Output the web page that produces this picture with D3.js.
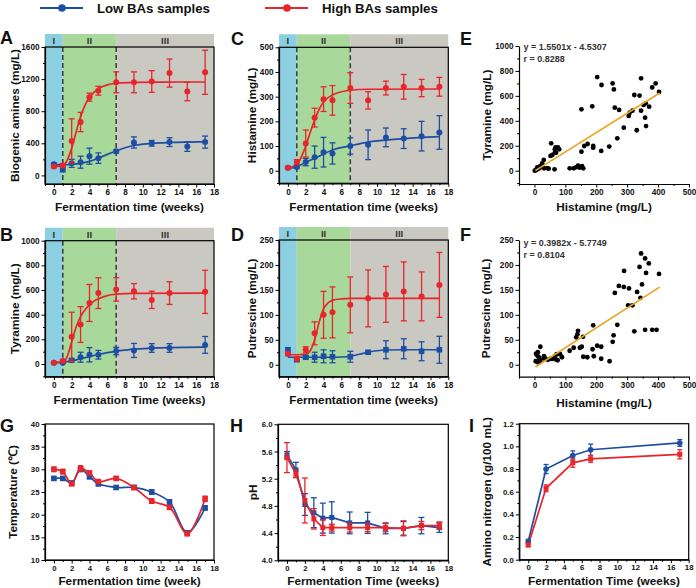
<!DOCTYPE html>
<html><head><meta charset="utf-8">
<script src="https://cdn.jsdelivr.net/npm/d3@7"></script>
<style>body{margin:0;background:#fff}svg{display:block}text{font-family:"Liberation Sans",Arial,sans-serif}</style>
</head><body><svg id="c" width="696" height="588"></svg>
<script>
// ---------------- DATA ----------------
const legendLabels = ["Low BAs samples", "High BAs samples"];
const bandEdges = [-1, 1, 7, 18];
const bandLabels = ["I", "II", "III"];
const dashWeeks = [1, 7];

const weeks = [0,1,2,3,4,5,7,9,11,13,15,17];
const weeksB = [0,1,2,3,4,5,7,9,11,13,17];
const weeksI = [0,2,5,7,17];

// A: Biogenic amines
const baLow = [140,75,150,165,240,215,300,410,400,415,360,415];
const baLowSd = [15,30,50,75,100,65,20,70,35,55,60,75];
const baHigh = [110,125,430,665,975,1055,1160,1160,1170,1275,1045,1285];
const baHighSd = [15,20,275,120,50,55,130,130,135,175,115,275];
const baLowFitX = [0,1,2,3,4,5,6,7,8,9,10,11,13,15,17];
const baLowFitY = [135,135,138,150,175,215,262,305,345,373,390,400,410,415,418];
const baHighFitX = [0,1,1.5,2,2.5,3,3.5,4,4.5,5,6,7,9,12,17];
const baHighFitY = [110,125,190,340,540,730,875,970,1035,1080,1128,1148,1160,1163,1164];

// B: Tyramine
const tyLow = [10,10,30,55,75,75,105,110,130,130,155];
const tyLowSd = [3,5,15,40,58,35,30,57,35,35,68];
const tyHigh = [10,25,220,320,495,575,605,590,520,575,585];
const tyHighSd = [5,10,200,145,150,125,95,62,70,92,175];
const tyLowFitX = [0,1,2,3,4,5,6,7,8,9,11,13,17];
const tyLowFitY = [12,15,25,42,60,77,92,103,112,120,128,133,137];
const tyHighFitX = [0,1,1.5,2,2.5,3,3.5,4,4.5,5,6,7,9,17];
const tyHighFitY = [10,15,60,180,300,385,440,480,510,528,555,566,573,575];

// C: Histamine
const hiLow = [12,15,35,55,75,70,100,105,135,130,140,155];
const hiLowSd = [3,5,15,45,60,43,33,60,38,40,60,68];
const hiHigh = [12,35,110,215,290,285,335,285,335,340,335,340];
const hiHighSd = [3,10,55,38,50,60,62,35,28,50,35,38];
const hiLowFitX = [0,1,2,3,4,5,7,9,11,13,17];
const hiLowFitY = [8,16,34,50,68,84,101,116,124,130,138];
const hiHighFitX = [0,1,1.5,2,2.5,3,3.5,4,4.5,5,6,7,9,17];
const hiHighFitY = [12,23,55,100,155,205,248,278,296,307,320,326,330,331];

// D: Putrescine
const puLow = [30,10,15,15,17,16,16,25,30,32,27,30];
const puLowSd = [4,3,3,10,13,12,11,3,18,20,19,27];
const puHigh = [22,12,30,63,100,105,120,133,141,147,137,160];
const puHighSd = [4,3,6,23,47,51,56,57,56,59,49,65];
const puLowFitX = [0,2,4,6,7,8,9,10,11,13,17];
const puLowFitY = [15,15,15,15.5,17,21,25,28,29.5,30,30];
const puHighFitX = [0,1,2,2.5,3,3.5,4,4.5,5,6,7,17];
const puHighFitY = [20,20,21,28,50,85,112,124,129,132,133,133];

// E: Histamine vs Tyramine
const eHist = [203,217,253,257,345,392,381,403,323,340,152,187,260,274,317,305,308,345,353,360,371,358,361,331,289,268,242,216,190,190,172,161,152,54,68,76,66,70,52,58,80,66,30,25,19,14,5,1,10,41,46,65,114,127,135,141,146,154,158,31,16,9];
const eTyr = [751,687,700,652,741,700,668,631,607,602,492,516,505,487,481,439,465,481,527,540,513,425,358,324,345,259,193,158,198,184,214,198,152,219,187,187,171,144,118,126,171,144,86,59,37,24,5,0,11,21,16,11,19,19,29,40,24,37,19,19,19,27];
const eFitX = [3, 405];
const eFitY = [0.12, 623.3];
const eEq = ["y = 1.5501x - 4.5307", "r = 0.8288"];

// F: Histamine vs Putrescine
const fHist = [345,358,370,340,361,403,290,273,289,306,260,332,348,343,303,317,323,358,381,395,268,256,253,243,190,216,203,188,192,216,158,171,141,139,135,157,147,153,127,114,83,72,66,68,75,53,43,31,30,19,11,5,9,14,4,11,19,16,33,57,89];
const fPut = [223,213,203,196,184,182,188,158,156,153,144,146,161,134,119,119,67,70,70,70,80,59,46,7,79,36,38,31,17,12,16,15,68,61,55,56,34,36,34,28,21,21,17,11,9,12,10,17,13,36,25,22,19,15,7,5,7,12,13,12,15];
const fFitX = [3, 405];
const fFitY = [-4.58, 155.5];
const fEq = ["y = 0.3982x - 5.7749", "r = 0.8104"];

// G: Temperature
const tLow = [28,28,27,30,28.4,26.8,26,26,25,22.8,16,21.5];
const tLowSd = [0.4,0.3,0.3,0.5,0.5,0.4,0.4,0.3,0.5,0.5,0.4,0.5];
const tHigh = [30,29.5,26.8,30.2,29.2,27.3,28,26,23,21.6,15.8,23.5];
const tHighSd = [0.5,0.5,0.3,0.6,0.4,0.3,0.4,0.3,0.5,0.4,0.4,0.6];

// H: pH
const phLow = [5.55,5.33,4.82,4.70,4.62,4.63,4.55,4.55,4.47,4.47,4.51,4.48];
const phLowSd = [0.05,0.11,0.16,0.22,0.22,0.23,0.16,0.155,0.08,0.10,0.12,0.07];
const phHigh = [5.51,5.27,4.88,4.61,4.48,4.48,4.48,4.48,4.48,4.47,4.51,4.51];
const phHighSd = [0.22,0.055,0.33,0.15,0.115,0.05,0.065,0.06,0.06,0.11,0.06,0.055];

// I: Amino nitrogen
const anLow = [0.16,0.80,0.92,0.97,1.03];
const anLowSd = [0.02,0.04,0.04,0.05,0.03];
const anHigh = [0.13,0.63,0.855,0.89,0.93];
const anHighSd = [0.015,0.03,0.04,0.03,0.04];

// ticks
const wkTicks = [0,2,4,6,8,10,12,14,16,18];
const wkMinor = [-1,1,3,5,7,9,11,13,15,17];
const histTicks = [0,100,200,300,400,500];
const histMinor = [-50,50,150,250,350,450];

// ---------------- DRAW ----------------
const svg = d3.select('#c');
const RED = '#e8252b', BLUE = '#1c4ea3', FIT = '#e9a61e';
const bandColors = ['#8ccfe1', '#a9d89b', '#c9c9c1'];
const FONT = '"Liberation Sans", Arial, sans-serif';

function styleAxis(sel, fs) {
  sel.selectAll('path.domain').attr('stroke', '#000').attr('stroke-width', 1.2);
  sel.selectAll('.tick line').attr('stroke', '#000').attr('stroke-width', 1);
  sel.selectAll('.tick text').attr('font-size', fs).attr('font-weight', 'bold')
    .attr('fill', '#111').attr('font-family', FONT);
}

function panel(p) {
  const g = svg.append('g');
  const fs = p.tfs || 8.2;
  const x = d3.scaleLinear().domain(p.xd).range([p.l, p.r]);
  const y = d3.scaleLinear().domain(p.yd).range([p.b, p.t]);
  if (p.bands) {
    for (let i = 0; i < bandLabels.length; i++) {
      const xa = x(bandEdges[i]), xb = x(bandEdges[i + 1]);
      g.append('rect').attr('x', xa).attr('y', p.t - 13).attr('width', xb - xa)
        .attr('height', p.b - p.t + 13).attr('fill', bandColors[i]);
      g.append('text').attr('x', (xa + xb) / 2).attr('y', p.t - 6.5).attr('dy', '0.35em')
        .attr('text-anchor', 'middle').attr('font-family', '"Liberation Serif","Times New Roman",serif')
        .attr('font-weight', 'bold').attr('font-size', 9.5).attr('fill', '#333').text(bandLabels[i]);
    }
  }
  if (p.dashed) {
    dashWeeks.forEach(d => g.append('line').attr('x1', x(d)).attr('x2', x(d)).attr('y1', p.t).attr('y2', p.b)
      .attr('stroke', '#3a3a3a').attr('stroke-width', 1.5).attr('stroke-dasharray', '5,3'));
  }
  const fmt = p.yf || d3.format('d');
  const ym = g.append('g').attr('transform', `translate(${p.l},0)`)
    .call(d3.axisLeft(y).tickValues(p.ym).tickSize(2).tickSizeOuter(0).tickFormat(''));
  ym.select('.domain').remove();
  const yM = g.append('g').attr('transform', `translate(${p.l},0)`)
    .call(d3.axisLeft(y).tickValues(p.yt).tickSize(3.5).tickSizeOuter(0).tickPadding(2).tickFormat(fmt));
  styleAxis(ym, fs); styleAxis(yM, fs);
  const xm = g.append('g').attr('transform', `translate(0,${p.b})`)
    .call(d3.axisBottom(x).tickValues(p.xm).tickSize(2).tickSizeOuter(0).tickFormat(''));
  xm.select('.domain').remove();
  const xM = g.append('g').attr('transform', `translate(0,${p.b})`)
    .call(d3.axisBottom(x).tickValues(p.xt).tickSize(3.5).tickSizeOuter(0).tickPadding(p.tpad || 2).tickFormat(d3.format('d')));
  styleAxis(xm, fs); styleAxis(xM, fs);
  if (p.frame) {
    g.append('rect').attr('x', p.l).attr('y', p.t).attr('width', p.r - p.l).attr('height', p.b - p.t)
      .attr('fill', 'none').attr('stroke', '#000').attr('stroke-width', 1.2);
  }
  // labels
  g.append('text').attr('x', (p.l + p.r) / 2).attr('y', p.xly).attr('text-anchor', 'middle')
    .attr('font-size', 11.8).attr('font-weight', 'bold').attr('fill', '#111').text(p.xl);
  g.append('text').attr('transform', `translate(${p.l - p.ylo},${(p.t + p.b) / 2}) rotate(-90)`)
    .attr('dy', '0.35em').attr('text-anchor', 'middle')
    .attr('font-size', 11.8).attr('font-weight', 'bold').attr('fill', '#111').text(p.yl);
  g.append('text').attr('x', p.lx).attr('y', p.ly).attr('font-size', 18).attr('font-weight', 'bold')
    .attr('fill', '#111').text(p.letter);
  const plot = g.append('g');
  return { g: plot, x, y };
}

function fitLine(P, xs, ys, color) {
  const line = d3.line().x((d, i) => P.x(xs[i])).y((d, i) => P.y(ys[i])).curve(d3.curveMonotoneX);
  P.g.append('path').attr('d', line(xs)).attr('fill', 'none').attr('stroke', color).attr('stroke-width', 1.7);
}

function dataLine(P, xs, ys, color, curve) {
  const line = d3.line().x((d, i) => P.x(xs[i])).y((d, i) => P.y(ys[i])).curve(curve);
  P.g.append('path').attr('d', line(xs)).attr('fill', 'none').attr('stroke', color).attr('stroke-width', 1.7);
}

function points(P, xs, ms, sds, color, shape, cap, size) {
  const gg = P.g.append('g');
  xs.forEach((xv, i) => {
    const cx = P.x(xv), y1 = P.y(ms[i] - sds[i]), y2 = P.y(ms[i] + sds[i]);
    gg.append('line').attr('x1', cx).attr('x2', cx).attr('y1', y1).attr('y2', y2).attr('stroke', color).attr('stroke-width', 1.3);
    gg.append('line').attr('x1', cx - cap).attr('x2', cx + cap).attr('y1', y1).attr('y2', y1).attr('stroke', color).attr('stroke-width', 1.3);
    gg.append('line').attr('x1', cx - cap).attr('x2', cx + cap).attr('y1', y2).attr('y2', y2).attr('stroke', color).attr('stroke-width', 1.3);
    const cy = P.y(ms[i]);
    if (shape === 'sq') gg.append('rect').attr('x', cx - size).attr('y', cy - size).attr('width', 2 * size).attr('height', 2 * size).attr('fill', color);
    else gg.append('circle').attr('cx', cx).attr('cy', cy).attr('r', size).attr('fill', color);
  });
}

function scatter(P, xs, ys) {
  xs.forEach((xv, i) => P.g.append('circle').attr('cx', P.x(xv)).attr('cy', P.y(ys[i])).attr('r', 2.4).attr('fill', '#000'));
}

function eqText(P, lines, y0) {
  lines.forEach((t, i) => P.g.append('text').attr('x', P.x(0) - 11).attr('y', y0 + i * 12).attr('font-size', 9)
    .attr('font-weight', 'bold').attr('fill', '#333').text(t));
}

// Legend
const legColors = [BLUE, RED];
const legX = [40, 265];
legendLabels.forEach((t, i) => {
  svg.append('line').attr('x1', legX[i]).attr('x2', legX[i] + 43).attr('y1', 8).attr('y2', 8).attr('stroke', legColors[i]).attr('stroke-width', 2.2);
  svg.append('circle').attr('cx', legX[i] + 22).attr('cy', 8).attr('r', 3.8).attr('fill', legColors[i]);
  svg.append('text').attr('x', legX[i] + 57).attr('y', 12.6).attr('font-size', 13.2).attr('font-weight', 'bold').attr('fill', '#111').text(t);
});

const wk = { xd: [-1, 18], xt: wkTicks, xm: wkMinor };

// A
const A = panel({ ...wk, l: 45, r: 214, t: 47, b: 184, yd: [-107, 1600], yt: [0,400,800,1200,1600], ym: [200,600,1000,1400],
  bands: true, dashed: true, frame: true, xl: 'Fermentation time (weeks)', xly: 211, yl: 'Biogenic amines (mg/L)', ylo: 30, letter: 'A', lx: 0, ly: 44 });
fitLine(A, baLowFitX, baLowFitY, BLUE); fitLine(A, baHighFitX, baHighFitY, RED);
points(A, weeks, baLow, baLowSd, BLUE, 'c', 3, 3); points(A, weeks, baHigh, baHighSd, RED, 'c', 3, 3);

// B
const B = panel({ ...wk, l: 45, r: 214, t: 240.7, b: 376.7, yd: [-103, 1000], yt: [0,200,400,600,800,1000], ym: [-100,100,300,500,700,900],
  bands: true, dashed: true, frame: true, xl: 'Fermentation Time (weeks)', xly: 403.5, yl: 'Tyramine (mg/L)', ylo: 30, letter: 'B', lx: 0, ly: 241 });
fitLine(B, tyLowFitX, tyLowFitY, BLUE); fitLine(B, tyHighFitX, tyHighFitY, RED);
points(B, weeksB, tyLow, tyLowSd, BLUE, 'c', 3, 3); points(B, weeksB, tyHigh, tyHighSd, RED, 'c', 3, 3);

// C
const C = panel({ ...wk, l: 279, r: 448.3, t: 47.3, b: 183.3, yd: [-51, 500], yt: [0,100,200,300,400,500], ym: [-50,50,150,250,350,450],
  bands: true, dashed: true, frame: true, xl: 'Fermentation time (weeks)', xly: 211, yl: 'Histamine (mg/L)', ylo: 27.5, letter: 'C', lx: 231, ly: 44.5 });
fitLine(C, hiLowFitX, hiLowFitY, BLUE); fitLine(C, hiHighFitX, hiHighFitY, RED);
points(C, weeks, hiLow, hiLowSd, BLUE, 'c', 3, 3); points(C, weeks, hiHigh, hiHighSd, RED, 'c', 3, 3);

// D
const D = panel({ ...wk, l: 279, r: 448.3, t: 240, b: 376.7, yd: [-24, 250], yt: [0,50,100,150,200,250], ym: [25,75,125,175,225],
  bands: true, dashed: false, frame: true, xl: 'Fermentation time (weeks)', xly: 403.5, yl: 'Putrescine (mg/L)', ylo: 27.5, letter: 'D', lx: 231, ly: 241 });
fitLine(D, puLowFitX, puLowFitY, BLUE); fitLine(D, puHighFitX, puHighFitY, RED);
points(D, weeks, puLow, puLowSd, BLUE, 'sq', 3, 2.8); points(D, weeks, puHigh, puHighSd, RED, 'c', 3, 3);

// E
const E = panel({ xd: [-50, 500], xt: histTicks, xm: histMinor, l: 519, r: 689, t: 46, b: 184, yd: [-107, 1000], yt: [0,200,400,600,800,1000], ym: [-100,100,300,500,700,900],
  frame: false, xl: 'Histamine (mg/L)', xly: 211, yl: 'Tyramine (mg/L)', ylo: 32, letter: 'E', lx: 460, ly: 45 });
scatter(E, eHist, eTyr);
dataLine(E, eFitX, eFitY, FIT, d3.curveLinear);
eqText(E, eEq, 49.5);

// F
const F = panel({ xd: [-50, 500], xt: histTicks, xm: histMinor, l: 519, r: 689, t: 240, b: 376.7, yd: [-24, 250], yt: [0,50,100,150,200,250], ym: [25,75,125,175,225],
  frame: false, xl: 'Histamine (mg/L)', xly: 407, yl: 'Putrescine (mg/L)', ylo: 33, letter: 'F', lx: 460, ly: 241 });
scatter(F, fHist, fPut);
dataLine(F, fFitX, fFitY, FIT, d3.curveLinear);
eqText(F, fEq, 245.5);

// G
const G = panel({ ...wk, l: 45, r: 214, t: 424, b: 560, yd: [10, 40], yt: [10,15,20,25,30,35,40], ym: [12.5,17.5,22.5,27.5,32.5,37.5],
  tfs: 7.8, tpad: 1.5, frame: true, xl: 'Fermentation time (week)', xly: 585, yl: 'Temperature (℃)', ylo: 32, letter: 'G', lx: 0, ly: 432 });
dataLine(G, weeks, tLow, BLUE, d3.curveCatmullRom); dataLine(G, weeks, tHigh, RED, d3.curveCatmullRom);
points(G, weeks, tLow, tLowSd, BLUE, 'sq', 2.5, 2.8); points(G, weeks, tHigh, tHighSd, RED, 'sq', 2.5, 2.8);

// H
const H = panel({ ...wk, l: 278, r: 448.3, t: 424.3, b: 560.3, yd: [4, 6], yt: [4.0,4.4,4.8,5.2,5.6,6.0], ym: [4.2,4.6,5.0,5.4,5.8],
  tfs: 7.8, tpad: 1.5, yf: d3.format('.1f'), frame: true, xl: 'Fermentation Time (weeks)', xly: 585, yl: 'pH', ylo: 25, letter: 'H', lx: 230, ly: 432 });
dataLine(H, weeks, phLow, BLUE, d3.curveLinear); dataLine(H, weeks, phHigh, RED, d3.curveLinear);
points(H, weeks, phLow, phLowSd, BLUE, 'sq', 3, 2.5); points(H, weeks, phHigh, phHighSd, RED, 'sq', 3, 2.5);

// I
const I = panel({ ...wk, l: 519.3, r: 688.7, t: 423.7, b: 559.7, yd: [0, 1.2], yt: [0.0,0.2,0.4,0.6,0.8,1.0,1.2], ym: [0.1,0.3,0.5,0.7,0.9,1.1],
  tfs: 7.8, tpad: 1.5, yf: d3.format('.1f'), frame: true, xl: 'Fermentation Time (weeks)', xly: 585, yl: 'Amino nitrogen (g/100 mL)', ylo: 32.5, letter: 'I', lx: 469, ly: 432 });
dataLine(I, weeksI, anLow, BLUE, d3.curveLinear); dataLine(I, weeksI, anHigh, RED, d3.curveLinear);
points(I, weeksI, anLow, anLowSd, BLUE, 'c', 2.5, 2.8); points(I, weeksI, anHigh, anHighSd, RED, 'sq', 2.5, 2.5);
</script></body></html>
